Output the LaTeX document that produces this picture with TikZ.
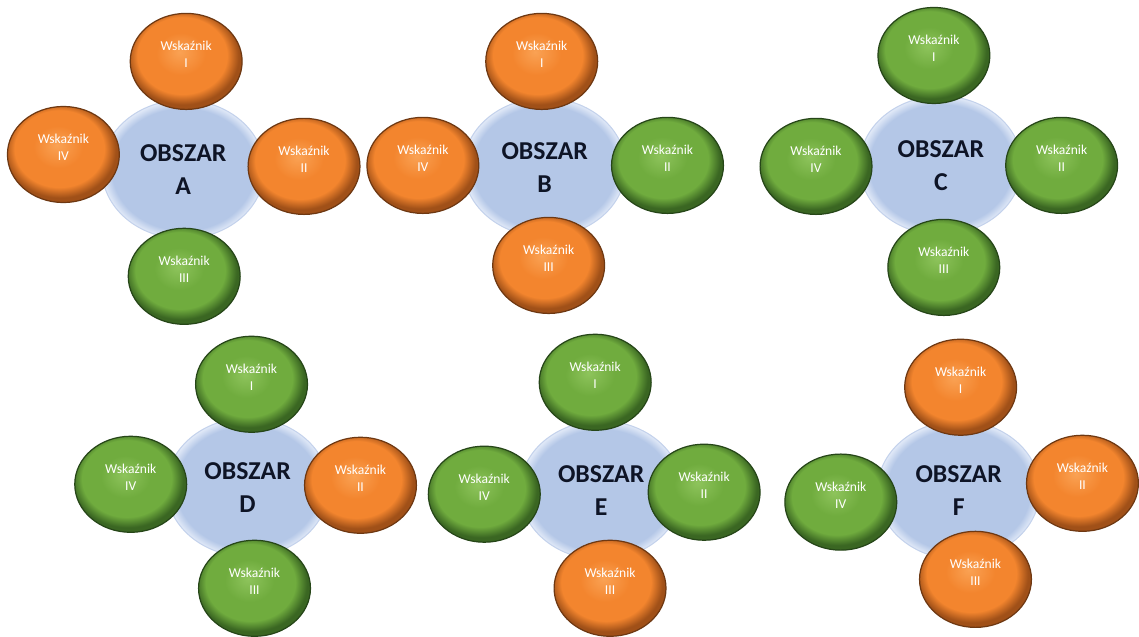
\documentclass[tikz,border=0pt]{standalone}
\usepackage{fontspec}
\setmainfont{Carlito}
\usepackage{tikz}
\usetikzlibrary{shapes.geometric}

\definecolor{orng}{RGB}{243,133,46}
\definecolor{orngtop}{RGB}{250,162,84}
\definecolor{orngrim}{RGB}{160,80,24}
\definecolor{orngline}{RGB}{110,56,18}
\definecolor{grn}{RGB}{112,172,62}
\definecolor{grntop}{RGB}{142,196,92}
\definecolor{grnrim}{RGB}{58,102,34}
\definecolor{grnline}{RGB}{38,70,24}
\definecolor{obsz}{RGB}{180,199,231}
\definecolor{obszrim}{RGB}{226,234,248}
\definecolor{obszline}{RGB}{196,210,236}
\definecolor{obsztext}{RGB}{14,20,38}

\pgfdeclareradialshading{orngball}{\pgfpoint{-3bp}{5bp}}{color(0bp)=(orngtop); color(11bp)=(orng); color(20bp)=(orng); color(25bp)=(orngrim); color(50bp)=(orngrim)}
\pgfdeclareradialshading{grnball}{\pgfpoint{-3bp}{5bp}}{color(0bp)=(grntop); color(11bp)=(grn); color(20bp)=(grn); color(25bp)=(grnrim); color(50bp)=(grnrim)}
\pgfdeclareradialshading{obszball}{\pgfpoint{0bp}{0bp}}{color(0bp)=(obsz); color(22bp)=(obsz); color(25bp)=(obszrim); color(50bp)=(obszrim)}

\begin{document}
\begin{tikzpicture}[x=0.02cm, y=-0.02cm,
    obszar/.style={ellipse, minimum width=3.28cm, minimum height=2.8cm,
        shade, shading=obszball, draw=obszline, line width=0.6pt,
        align=center, text=obsztext, font=\fontsize{14.8}{19}\selectfont\bfseries},
    wsk/.style={ellipse, minimum width=2.26cm, minimum height=1.94cm,
        shade, shading=#1ball, draw=#1line, line width=0.7pt},
    wsklab/.style={align=center, text=white, font=\fontsize{7.8}{9.6}\selectfont, yshift=0.14cm}]

    \path[fill=white] (0,0) rectangle (1139,641);

    \node[obszar] (A) at (185,171) {OBSZAR\\A};
    \node[obszar] (B) at (550,169) {OBSZAR\\B};
    \node[obszar] (C) at (950,167) {OBSZAR\\C};
    \node[obszar] (D) at (250,492) {OBSZAR\\D};
    \node[obszar] (E) at (607,495) {OBSZAR\\E};
    \node[obszar] (F) at (968,495) {OBSZAR\\F};

    % A
    \node[wsk=orng, label={[wsklab]center:Wskaźnik\\I}] (A1) at (188,62) {};
    \node[wsk=orng, label={[wsklab]center:Wskaźnik\\II}] (A2) at (307,168) {};
    \node[wsk=grn, label={[wsklab]center:Wskaźnik\\III}] (A3) at (186,279) {};
    \node[wsk=orng, label={[wsklab]center:Wskaźnik\\IV}] (A4) at (64,156) {};

    % B
    \node[wsk=orng, label={[wsklab]center:Wskaźnik\\I}] (B1) at (547,62) {};
    \node[wsk=grn, label={[wsklab]center:Wskaźnik\\II}] (B2) at (674,167) {};
    \node[wsk=orng, label={[wsklab]center:Wskaźnik\\III}] (B3) at (554,268) {};
    \node[wsk=orng, label={[wsklab]center:Wskaźnik\\IV}] (B4) at (427,167) {};

    % C
    \node[wsk=grn, label={[wsklab]center:Wskaźnik\\I}] (C1) at (943,56) {};
    \node[wsk=grn, label={[wsklab]center:Wskaźnik\\II}] (C2) at (1072,167) {};
    \node[wsk=grn, label={[wsklab]center:Wskaźnik\\III}] (C3) at (953,270) {};
    \node[wsk=grn, label={[wsklab]center:Wskaźnik\\IV}] (C4) at (824,168) {};

    % D
    \node[wsk=grn, label={[wsklab]center:Wskaźnik\\I}] (D1) at (254,388) {};
    \node[wsk=orng, label={[wsklab]center:Wskaźnik\\II}] (D2) at (364,490) {};
    \node[wsk=grn, label={[wsklab]center:Wskaźnik\\III}] (D3) at (257,594) {};
    \node[wsk=grn, label={[wsklab]center:Wskaźnik\\IV}] (D4) at (132,489) {};

    % E
    \node[wsk=grn, label={[wsklab]center:Wskaźnik\\I}] (E1) at (601,386) {};
    \node[wsk=grn, label={[wsklab]center:Wskaźnik\\II}] (E2) at (711,497) {};
    \node[wsk=orng, label={[wsklab]center:Wskaźnik\\III}] (E3) at (616,594) {};
    \node[wsk=grn, label={[wsklab]center:Wskaźnik\\IV}] (E4) at (489,499) {};

    % F
    \node[wsk=orng, label={[wsklab]center:Wskaźnik\\I}] (F1) at (970,391) {};
    \node[wsk=orng, label={[wsklab]center:Wskaźnik\\II}] (F2) at (1093,488) {};
    \node[wsk=orng, label={[wsklab]center:Wskaźnik\\III}] (F3) at (985,585) {};
    \node[wsk=grn, label={[wsklab]center:Wskaźnik\\IV}] (F4) at (849,507) {};

    \useasboundingbox (0,0) rectangle (1139,641);
\end{tikzpicture}
\end{document}
